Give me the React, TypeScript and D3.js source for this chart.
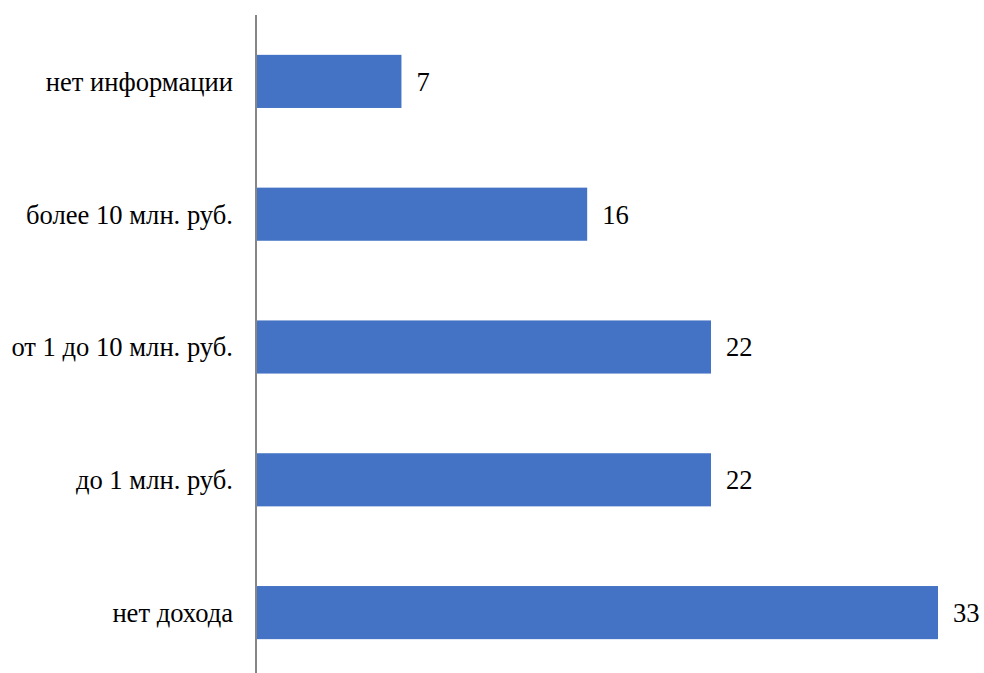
import React from "react";
import * as d3 from "d3";

const categories = ["нет информации", "более 10 млн. руб.", "от 1 до 10 млн. руб.", "до 1 млн. руб.", "нет дохода"];
const values = [7, 16, 22, 22, 33];

const W = 984;
const H = 673;

export default function App() {
  const x0 = 257;
  const x = d3.scaleLinear().domain([0, 33]).range([x0, 938]);
  const y = d3.scaleBand<string>().domain(categories).range([15, 679]).paddingInner(0.6).paddingOuter(0.3);
  const textStyle: React.CSSProperties = { fontFamily: '"Liberation Serif", "Times New Roman", serif', fontSize: "26.6px" };
  return (
    <svg width={W} height={H} style={{ position: "absolute", left: 0, top: 0, background: "#fff" }}>
      {categories.map((c, i) => {
        const yy = y(c)!;
        const bw = y.bandwidth();
        return (
          <g key={c}>
            <rect x={x0} y={yy} width={x(values[i]) - x0} height={bw} fill="#4472C4" />
            <text x={233} y={yy + bw / 2} dy="0.35em" textAnchor="end" style={textStyle} fill="#000">{c}</text>
            <text x={x(values[i]) + 15} y={yy + bw / 2} dy="0.35em" textAnchor="start" style={textStyle} fill="#000">{values[i]}</text>
          </g>
        );
      })}
      <line x1={256} x2={256} y1={15} y2={H} stroke="#868686" strokeWidth={2} />
    </svg>
  );
}
